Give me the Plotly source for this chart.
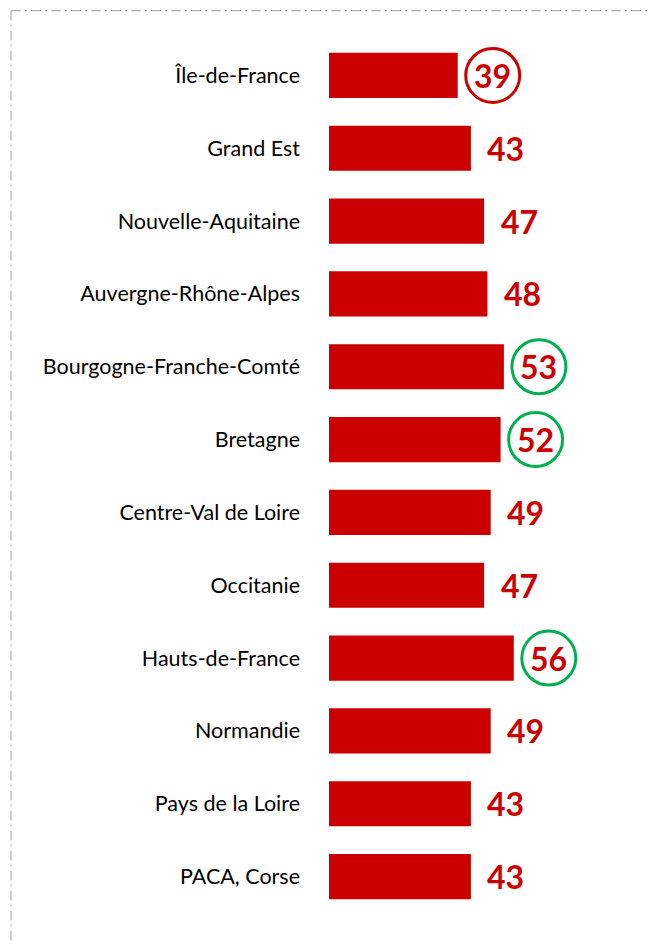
import plotly.graph_objects as go

regions = ["Île-de-France", "Grand Est", "Nouvelle-Aquitaine", "Auvergne-Rhône-Alpes",
           "Bourgogne-Franche-Comté", "Bretagne", "Centre-Val de Loire", "Occitanie",
           "Hauts-de-France", "Normandie", "Pays de la Loire", "PACA, Corse"]
values = [39, 43, 47, 48, 53, 52, 49, 47, 56, 49, 43, 43]
circled_low = ["Île-de-France"]
circled_high = ["Bourgogne-Franche-Comté", "Bretagne", "Hauts-de-France"]

RED = "#CC0000"
GREEN = "#00B050"
OFF = 8  # page body offset
W, H = 656 - OFF, 944 - OFF
L, T, B = 329 - OFF, 38.5 - OFF, 30.5
PW, PH = W - L, H - T - B

fig = go.Figure()
fig.add_trace(go.Bar(
    x=values, y=regions, orientation="h",
    marker=dict(color=RED, line=dict(width=0)),
    width=0.62, hoverinfo="skip",
))

annotations = []
shapes = []
for r, v in zip(regions, values):
    annotations.append(dict(
        x=v, y=r, xref="x", yref="y", text=f"<b>{v}</b>", showarrow=False,
        xanchor="center", yanchor="middle", xshift=35, yshift=0,
        font=dict(family="Lato", size=32, color=RED),
    ))
    if r in circled_low or r in circled_high:
        col = RED if r in circled_low else GREEN
        shapes.append(dict(
            type="circle", xref="x", yref="y", xsizemode="pixel", ysizemode="pixel",
            xanchor=v, yanchor=r, x0=35 - 27, x1=35 + 27, y0=-27, y1=27,
            line=dict(color=col, width=3), fillcolor="rgba(0,0,0,0)",
        ))

# dash-dot frame (top and left)
top_y = 1 + (T - (10 - OFF)) / PH
left_x = ((11 - OFF) - L) / PW
shapes.append(dict(type="line", xref="paper", yref="paper", x0=left_x, x1=1.05,
                   y0=top_y, y1=top_y,
                   line=dict(color="#B0B0B0", width=1.2, dash="10px,4px,2px,4px")))
shapes.append(dict(type="line", xref="paper", yref="paper",
                   x0=left_x, x1=left_x, y0=top_y, y1=-0.1,
                   line=dict(color="#B0B0B0", width=1.2, dash="10px,4px,2px,4px")))

fig.update_layout(
    width=W, height=H,
    margin=dict(l=L, r=0, t=T, b=B),
    paper_bgcolor="white", plot_bgcolor="white",
    showlegend=False,
    xaxis=dict(range=[0, PW / 3.30], visible=False, fixedrange=True),
    yaxis=dict(autorange=False, range=[11.5, -0.5], showgrid=False, zeroline=False,
               showline=False, ticks="", ticklabelstandoff=28,
               tickfont=dict(family="Lato", size=21.5, color="black"), fixedrange=True),
    annotations=annotations, shapes=shapes,
)
fig.write_html("out.html", config={"displayModeBar": False})
